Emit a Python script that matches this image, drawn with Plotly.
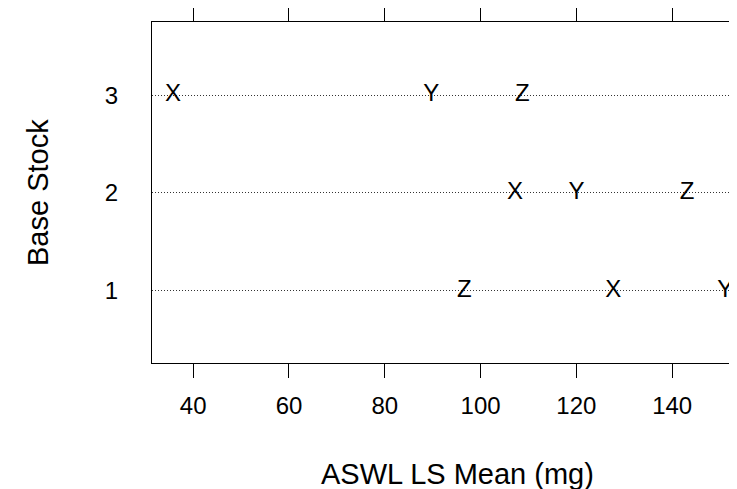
import plotly.graph_objects as go

# Data
stocks = [1, 2, 3]
x_vals = [127.7, 107.2, 35.8]   # series X per base stock 1,2,3
y_vals = [151.1, 120.0, 89.7]   # series Y
z_vals = [96.6, 143.1, 108.7]   # series Z
series = {"X": x_vals, "Y": y_vals, "Z": z_vals}
x_ticks = [40, 60, 80, 100, 120, 140]
y_ticks = [1, 2, 3]

W, H = 737, 489
L, R, T, B = 144, 0, 14, 134
FONT = "Liberation Sans, Arial, sans-serif"

fig = go.Figure()
for name, vals in series.items():
    fig.add_trace(go.Scatter(
        x=vals, y=stocks, mode="text", text=[name] * len(vals),
        textposition="middle center",
        textfont=dict(family=FONT, size=24, color="black"),
        showlegend=False, hoverinfo="skip", cliponaxis=False,
    ))

plot_h = H - T - B
def py(p):
    return (H - B - p) / plot_h
def px(p):
    return (p - L) / (W - L - R)

fig.update_layout(
    width=W, height=H,
    margin=dict(l=L, r=R, t=T, b=B, pad=0),
    paper_bgcolor="white", plot_bgcolor="white",
    font=dict(family=FONT, color="black"),
    xaxis=dict(
        range=[31.4, 155.2], tickvals=x_ticks, ticktext=[str(v) for v in x_ticks],
        showgrid=False, zeroline=False,
        showline=True, linecolor="black", linewidth=1, mirror="ticks",
        ticks="outside", ticklen=14, tickcolor="black", tickwidth=1,
        tickfont=dict(family=FONT, size=24, color="black"),
        ticklabelstandoff=7,
    ),
    yaxis=dict(
        range=[0.263, 3.747], tickvals=y_ticks, ticktext=[str(v) for v in y_ticks],
        showgrid=True, gridcolor="#333333", griddash="1px,2px", gridwidth=1,
        zeroline=False, showline=True, linecolor="black", linewidth=1, mirror=False,
        ticks="", tickfont=dict(family=FONT, size=24, color="black"),
        ticklabelstandoff=28,
    ),
    annotations=[
        dict(text="ASWL LS Mean (mg)", xref="paper", yref="paper",
             x=px(449), y=py(466), xanchor="center", yanchor="middle",
             showarrow=False, font=dict(family=FONT, size=29, color="black")),
        dict(text="Base Stock", xref="paper", yref="paper",
             x=px(30), y=py(185), xanchor="center", yanchor="middle", textangle=-90,
             showarrow=False, font=dict(family=FONT, size=29, color="black")),
    ],
)

fig.write_html("out.html")
